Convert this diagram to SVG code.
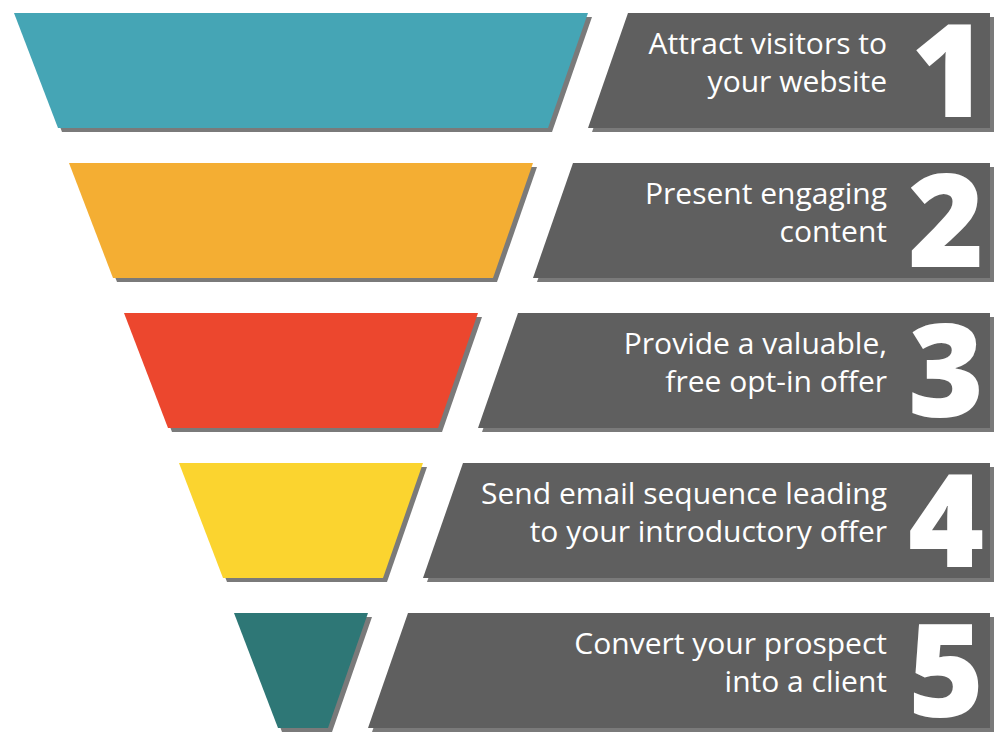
<svg xmlns="http://www.w3.org/2000/svg" width="1000" height="750" viewBox="0 0 1000 750">
<style>
.sh{fill:#7a7a7a}
.box{fill:#5f5f5f}
.t{font-family:"Open Sans","Liberation Sans",sans-serif;font-size:30px;fill:#ffffff;text-anchor:end}
.n{font-family:"Open Sans","Liberation Sans",sans-serif;font-size:130px;font-weight:800;fill:#ffffff;text-anchor:middle}
</style>
<rect width="1000" height="750" fill="#ffffff"/>
<g id="step1">
<polygon class="sh" points="18,17 592,17 552,132 62,132"/>
<polygon fill="#45a5b5" points="14,13 588,13 548,128 58,128"/>
<polygon class="sh" points="632,17 994,17 994,132 592,132"/>
<polygon class="box" points="628,13 990,13 990,128 588,128"/>
<text class="t" x="887" y="54">Attract visitors to</text>
<text class="t" x="887" y="92">your website</text>
<text class="n" x="949" y="117">1</text>
</g>
<g id="step2">
<polygon class="sh" points="73,167 537,167 497,282 117,282"/>
<polygon fill="#f4ae33" points="69,163 533,163 493,278 113,278"/>
<polygon class="sh" points="577,167 994,167 994,282 537,282"/>
<polygon class="box" points="573,163 990,163 990,278 533,278"/>
<text class="t" x="887" y="204">Present engaging</text>
<text class="t" x="887" y="242">content</text>
<text class="n" x="946" y="267">2</text>
</g>
<g id="step3">
<polygon class="sh" points="128,317 482,317 442,432 172,432"/>
<polygon fill="#ec472e" points="124,313 478,313 438,428 168,428"/>
<polygon class="sh" points="522,317 994,317 994,432 482,432"/>
<polygon class="box" points="518,313 990,313 990,428 478,428"/>
<text class="t" x="887" y="354">Provide a valuable,</text>
<text class="t" x="887" y="392">free opt-in offer</text>
<text class="n" x="946" y="417">3</text>
</g>
<g id="step4">
<polygon class="sh" points="183,467 427,467 387,582 227,582"/>
<polygon fill="#fbd42f" points="179,463 423,463 383,578 223,578"/>
<polygon class="sh" points="467,467 994,467 994,582 427,582"/>
<polygon class="box" points="463,463 990,463 990,578 423,578"/>
<text class="t" x="887" y="504">Send email sequence leading</text>
<text class="t" x="887" y="542">to your introductory offer</text>
<text class="n" x="946" y="567">4</text>
</g>
<g id="step5">
<polygon class="sh" points="238,617 372,617 332,732 282,732"/>
<polygon fill="#2e7776" points="234,613 368,613 328,728 278,728"/>
<polygon class="sh" points="412,617 994,617 994,732 372,732"/>
<polygon class="box" points="408,613 990,613 990,728 368,728"/>
<text class="t" x="887" y="654">Convert your prospect</text>
<text class="t" x="887" y="692">into a client</text>
<text class="n" x="946" y="717">5</text>
</g>
</svg>
